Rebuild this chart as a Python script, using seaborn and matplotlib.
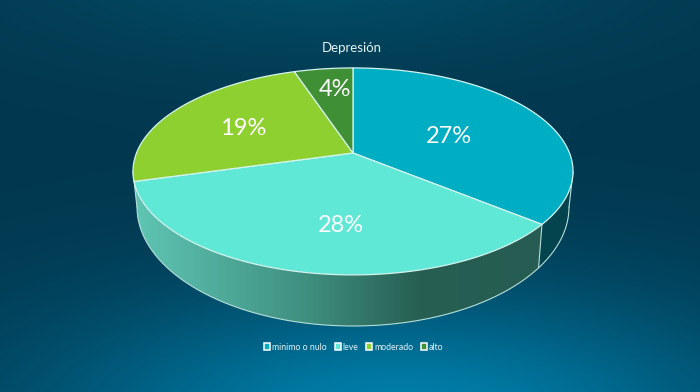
# -*- coding: utf-8 -*-
import numpy as np
import matplotlib.pyplot as plt
import seaborn as sns
from matplotlib.colors import LinearSegmentedColormap, to_rgb
from matplotlib.patches import Patch, Polygon

#%% data
title_text = 'Depresión'
categories = ['minimo o nulo', 'leve', 'moderado', 'alto']
pct_labels = ['27%', '28%', '19%', '4%']
# slice sizes as they are drawn in the picture (the printed labels do not add to 100)
slice_shares = [28.0, 27.1, 18.9, 4.0]
slice_colors = ['#00aec3', '#60e8d6', '#8ed02f', '#3f8f35']

#%% setup
sns.set_theme(style='white')
plt.rcParams['font.family'] = ['Lato', 'DejaVu Sans']
sns.set_palette(slice_colors)
clrs = sns.color_palette(n_colors=4)

fig, ax = plt.subplots(1, 1, figsize=(7, 3.92), dpi=100)
ax.set_position([0, 0, 1, 1])

#%% background
xx, yy = np.meshgrid(np.arange(700), np.arange(392))
glow = np.exp(-((xx - 400) / 360.0) ** 2 - ((yy - 420) / 130.0) ** 2)
top = np.exp(-((xx - 320) / 300.0) ** 2 - ((yy + 30) / 90.0) ** 2)
base, light, upper = map(np.array, map(to_rgb, ['#02384f', '#0080ac', '#034c66']))
bg = base + glow[..., None] * (light - base) + top[..., None] * (upper - base)
ax.imshow(np.clip(bg, 0, 1), extent=(0, 700, 392, 0), aspect='auto', zorder=0)
ax.set_xlim(0, 700)
ax.set_ylim(392, 0)
ax.axis('off')

#%% projection of the tilted disc
cx, cy = 353, 153
persp = 0.178
half_w, half_h = 216.5, 100.2
low_cy, low_a, low_b = 207, 216, 119
shrink = 0.982
line_clr = '#b5dfd9'


def rim(theta):
    # theta clockwise from the back of the disc, in degrees
    t = np.radians(theta)
    w = 1 + persp * np.cos(t)
    return cx + half_w * np.sin(t) / w, cy - half_h * np.cos(t) / w


def rim_low(theta):
    # point of the lower rim right under the upper rim
    x, _ = rim(theta)
    xl = cx + (x - cx) * shrink
    return xl, low_cy + low_b * np.sqrt(np.clip(1 - ((xl - cx) / low_a) ** 2, 0, 1))


edges = np.concatenate([[0], np.cumsum(slice_shares)])
edges = edges / edges[-1] * 360
th_right = np.degrees(np.arccos(-persp))
th_left = 360 - th_right

#%% side wall with the horizontal shading
wall_cmap = LinearSegmentedColormap.from_list(
    'wall', [(0, '#60c6b4'), (0.2, '#50ac9c'), (0.43, '#3f8f7f'), (0.7, '#275f53'), (1, '#265c51')])
th = np.linspace(edges[1], th_left, 300)
xt, yt = rim(th)
xb, yb = rim_low(th)
wall = Polygon(np.r_[np.c_[xt, yt], np.c_[xb, yb][::-1]], closed=True, fc='none', ec='none')
ax.add_patch(wall)
im = ax.imshow(np.linspace(0, 1, 256)[None, :], cmap=wall_cmap, extent=(133, 541, 392, 0),
               aspect='auto', zorder=1)
im.set_clip_path(wall)
ax.set_xlim(0, 700)
ax.set_ylim(392, 0)

# the part of the wall under the first slice
th = np.linspace(th_right, edges[1], 100)
xt, yt = rim(th)
xb, yb = rim_low(th)
ax.add_patch(Polygon(np.r_[np.c_[xt, yt], np.c_[xb, yb][::-1]], closed=True,
                     fc='#04444e', ec='none', zorder=2))
th = np.linspace(th_right, th_left, 400)
xb, yb = rim_low(th)
ax.plot(xb, yb, color=line_clr, lw=0.8, zorder=3)
for t_edge in [th_right, edges[1], th_left]:
    xt, yt = rim(t_edge)
    xb, yb = rim_low(t_edge)
    ax.plot([xt, xb], [yt, yb], color=line_clr, lw=0.8, zorder=3)

#%% slices on top
for i, clr in enumerate(clrs):
    th = np.linspace(edges[i], edges[i + 1], 120)
    xr, yr = rim(th)
    pts = np.r_[[[cx, cy]], np.c_[xr, yr]]
    ax.add_patch(Polygon(pts, closed=True, fc=clr, ec='#d5f3ee', lw=0.9, zorder=4))

#%% text
for lbl, (xl, yl) in zip(pct_labels, [(449, 136), (341, 225), (243, 128), (335, 89)]):
    ax.text(xl, yl, lbl, color='white', fontsize=17, ha='center', va='center', zorder=5)
ax.text(352, 48, title_text, color='#e6f4f6', fontsize=9.5, ha='center', va='center', zorder=5)

handles = [Patch(fc=c, ec='white', lw=1.1) for c in clrs]
ax.legend(handles, categories, loc='center', bbox_to_anchor=(354 / 700, 1 - 347 / 392),
          ncol=4, frameon=False, fontsize=6.3, labelcolor='#e3f1f4', handlelength=0.7,
          handleheight=0.7, handletextpad=0.2, columnspacing=0.9)

fig.savefig('out.png', dpi=100)
